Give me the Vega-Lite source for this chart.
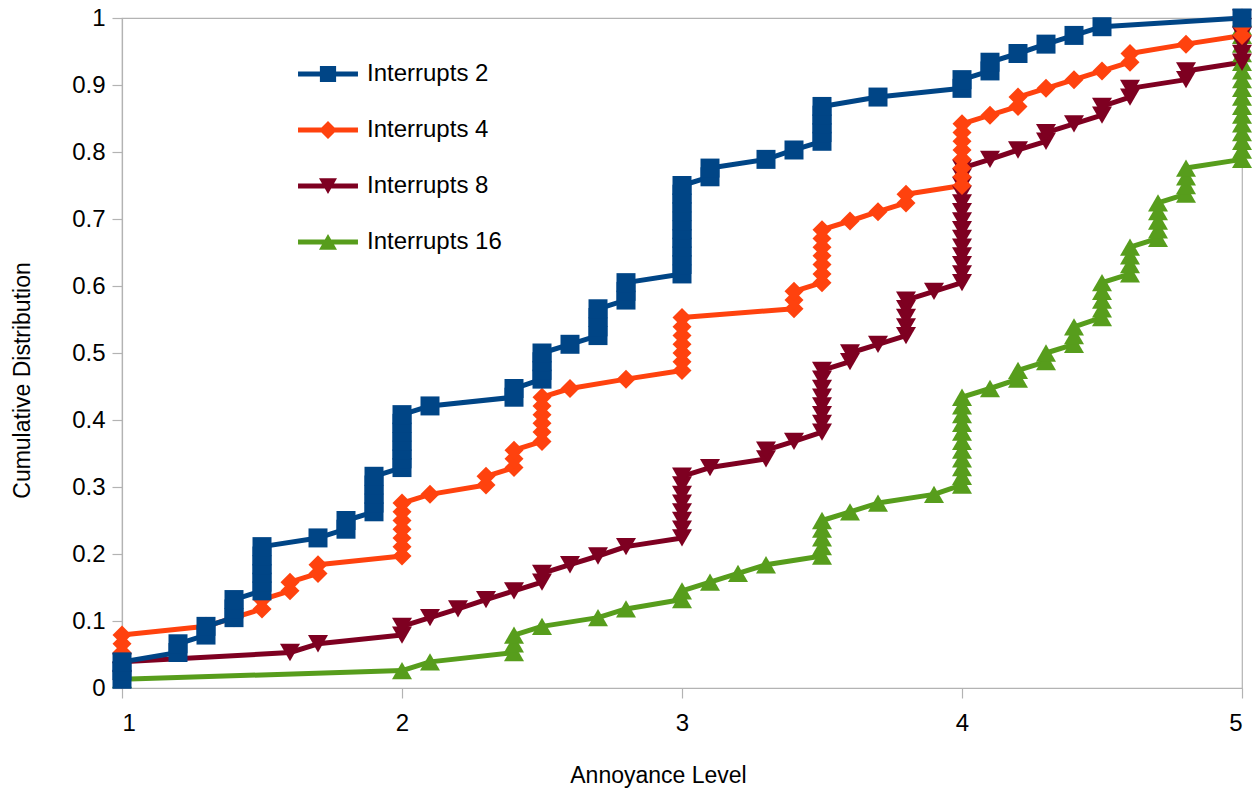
{
"$schema": "https://vega.github.io/schema/vega-lite/v6.json",
"width": 1120, "height": 670,
"autosize": {"type": "none"},
"padding": {"left": 122, "top": 18, "right": 13, "bottom": 100},
"background": "white",
"config": {"view": {"stroke": "#b3b3b3", "strokeWidth": 1.2}, "font": "Liberation Sans"},
"data": {"values": [
{"s":"Interrupts 16","x":1,"y":0.013},{"s":"Interrupts 16","x":2,"y":0.026},{"s":"Interrupts 16","x":2.1,"y":0.039},{"s":"Interrupts 16","x":2.4,"y":0.053},{"s":"Interrupts 16","x":2.4,"y":0.066},{"s":"Interrupts 16","x":2.4,"y":0.079},{"s":"Interrupts 16","x":2.5,"y":0.092},{"s":"Interrupts 16","x":2.7,"y":0.105},{"s":"Interrupts 16","x":2.8,"y":0.118},{"s":"Interrupts 16","x":3,"y":0.132},{"s":"Interrupts 16","x":3,"y":0.145},{"s":"Interrupts 16","x":3.1,"y":0.158},{"s":"Interrupts 16","x":3.2,"y":0.171},{"s":"Interrupts 16","x":3.3,"y":0.184},{"s":"Interrupts 16","x":3.5,"y":0.197},{"s":"Interrupts 16","x":3.5,"y":0.211},{"s":"Interrupts 16","x":3.5,"y":0.224},{"s":"Interrupts 16","x":3.5,"y":0.237},{"s":"Interrupts 16","x":3.5,"y":0.25},{"s":"Interrupts 16","x":3.6,"y":0.263},{"s":"Interrupts 16","x":3.7,"y":0.276},{"s":"Interrupts 16","x":3.9,"y":0.289},{"s":"Interrupts 16","x":4,"y":0.303},{"s":"Interrupts 16","x":4,"y":0.316},{"s":"Interrupts 16","x":4,"y":0.329},{"s":"Interrupts 16","x":4,"y":0.342},{"s":"Interrupts 16","x":4,"y":0.355},{"s":"Interrupts 16","x":4,"y":0.368},{"s":"Interrupts 16","x":4,"y":0.382},{"s":"Interrupts 16","x":4,"y":0.395},{"s":"Interrupts 16","x":4,"y":0.408},{"s":"Interrupts 16","x":4,"y":0.421},{"s":"Interrupts 16","x":4,"y":0.434},{"s":"Interrupts 16","x":4.1,"y":0.447},{"s":"Interrupts 16","x":4.2,"y":0.461},{"s":"Interrupts 16","x":4.2,"y":0.474},{"s":"Interrupts 16","x":4.3,"y":0.487},{"s":"Interrupts 16","x":4.3,"y":0.5},{"s":"Interrupts 16","x":4.4,"y":0.513},{"s":"Interrupts 16","x":4.4,"y":0.526},{"s":"Interrupts 16","x":4.4,"y":0.539},{"s":"Interrupts 16","x":4.5,"y":0.553},{"s":"Interrupts 16","x":4.5,"y":0.566},{"s":"Interrupts 16","x":4.5,"y":0.579},{"s":"Interrupts 16","x":4.5,"y":0.592},{"s":"Interrupts 16","x":4.5,"y":0.605},{"s":"Interrupts 16","x":4.6,"y":0.618},{"s":"Interrupts 16","x":4.6,"y":0.632},{"s":"Interrupts 16","x":4.6,"y":0.645},{"s":"Interrupts 16","x":4.6,"y":0.658},{"s":"Interrupts 16","x":4.7,"y":0.671},{"s":"Interrupts 16","x":4.7,"y":0.684},{"s":"Interrupts 16","x":4.7,"y":0.697},{"s":"Interrupts 16","x":4.7,"y":0.711},{"s":"Interrupts 16","x":4.7,"y":0.724},{"s":"Interrupts 16","x":4.8,"y":0.737},{"s":"Interrupts 16","x":4.8,"y":0.75},{"s":"Interrupts 16","x":4.8,"y":0.763},{"s":"Interrupts 16","x":4.8,"y":0.776},{"s":"Interrupts 16","x":5,"y":0.789},{"s":"Interrupts 16","x":5,"y":0.803},{"s":"Interrupts 16","x":5,"y":0.816},{"s":"Interrupts 16","x":5,"y":0.829},{"s":"Interrupts 16","x":5,"y":0.842},{"s":"Interrupts 16","x":5,"y":0.855},{"s":"Interrupts 16","x":5,"y":0.868},{"s":"Interrupts 16","x":5,"y":0.882},{"s":"Interrupts 16","x":5,"y":0.895},{"s":"Interrupts 16","x":5,"y":0.908},{"s":"Interrupts 16","x":5,"y":0.921},{"s":"Interrupts 16","x":5,"y":0.934},{"s":"Interrupts 16","x":5,"y":0.947},{"s":"Interrupts 16","x":5,"y":0.961},{"s":"Interrupts 16","x":5,"y":0.974},{"s":"Interrupts 16","x":5,"y":0.987},{"s":"Interrupts 16","x":5,"y":1},
{"s":"Interrupts 8","x":1,"y":0.013},{"s":"Interrupts 8","x":1,"y":0.026},{"s":"Interrupts 8","x":1,"y":0.039},{"s":"Interrupts 8","x":1.6,"y":0.053},{"s":"Interrupts 8","x":1.7,"y":0.066},{"s":"Interrupts 8","x":2,"y":0.079},{"s":"Interrupts 8","x":2,"y":0.092},{"s":"Interrupts 8","x":2.1,"y":0.105},{"s":"Interrupts 8","x":2.2,"y":0.118},{"s":"Interrupts 8","x":2.3,"y":0.132},{"s":"Interrupts 8","x":2.4,"y":0.145},{"s":"Interrupts 8","x":2.5,"y":0.158},{"s":"Interrupts 8","x":2.5,"y":0.171},{"s":"Interrupts 8","x":2.6,"y":0.184},{"s":"Interrupts 8","x":2.7,"y":0.197},{"s":"Interrupts 8","x":2.8,"y":0.211},{"s":"Interrupts 8","x":3,"y":0.224},{"s":"Interrupts 8","x":3,"y":0.237},{"s":"Interrupts 8","x":3,"y":0.25},{"s":"Interrupts 8","x":3,"y":0.263},{"s":"Interrupts 8","x":3,"y":0.276},{"s":"Interrupts 8","x":3,"y":0.289},{"s":"Interrupts 8","x":3,"y":0.303},{"s":"Interrupts 8","x":3,"y":0.316},{"s":"Interrupts 8","x":3.1,"y":0.329},{"s":"Interrupts 8","x":3.3,"y":0.342},{"s":"Interrupts 8","x":3.3,"y":0.355},{"s":"Interrupts 8","x":3.4,"y":0.368},{"s":"Interrupts 8","x":3.5,"y":0.382},{"s":"Interrupts 8","x":3.5,"y":0.395},{"s":"Interrupts 8","x":3.5,"y":0.408},{"s":"Interrupts 8","x":3.5,"y":0.421},{"s":"Interrupts 8","x":3.5,"y":0.434},{"s":"Interrupts 8","x":3.5,"y":0.447},{"s":"Interrupts 8","x":3.5,"y":0.461},{"s":"Interrupts 8","x":3.5,"y":0.474},{"s":"Interrupts 8","x":3.6,"y":0.487},{"s":"Interrupts 8","x":3.6,"y":0.5},{"s":"Interrupts 8","x":3.7,"y":0.513},{"s":"Interrupts 8","x":3.8,"y":0.526},{"s":"Interrupts 8","x":3.8,"y":0.539},{"s":"Interrupts 8","x":3.8,"y":0.553},{"s":"Interrupts 8","x":3.8,"y":0.566},{"s":"Interrupts 8","x":3.8,"y":0.579},{"s":"Interrupts 8","x":3.9,"y":0.592},{"s":"Interrupts 8","x":4,"y":0.605},{"s":"Interrupts 8","x":4,"y":0.618},{"s":"Interrupts 8","x":4,"y":0.632},{"s":"Interrupts 8","x":4,"y":0.645},{"s":"Interrupts 8","x":4,"y":0.658},{"s":"Interrupts 8","x":4,"y":0.671},{"s":"Interrupts 8","x":4,"y":0.684},{"s":"Interrupts 8","x":4,"y":0.697},{"s":"Interrupts 8","x":4,"y":0.711},{"s":"Interrupts 8","x":4,"y":0.724},{"s":"Interrupts 8","x":4,"y":0.737},{"s":"Interrupts 8","x":4,"y":0.75},{"s":"Interrupts 8","x":4,"y":0.763},{"s":"Interrupts 8","x":4,"y":0.776},{"s":"Interrupts 8","x":4.1,"y":0.789},{"s":"Interrupts 8","x":4.2,"y":0.803},{"s":"Interrupts 8","x":4.3,"y":0.816},{"s":"Interrupts 8","x":4.3,"y":0.829},{"s":"Interrupts 8","x":4.4,"y":0.842},{"s":"Interrupts 8","x":4.5,"y":0.855},{"s":"Interrupts 8","x":4.5,"y":0.868},{"s":"Interrupts 8","x":4.6,"y":0.882},{"s":"Interrupts 8","x":4.6,"y":0.895},{"s":"Interrupts 8","x":4.8,"y":0.908},{"s":"Interrupts 8","x":4.8,"y":0.921},{"s":"Interrupts 8","x":5,"y":0.934},{"s":"Interrupts 8","x":5,"y":0.947},{"s":"Interrupts 8","x":5,"y":0.961},{"s":"Interrupts 8","x":5,"y":0.974},{"s":"Interrupts 8","x":5,"y":0.987},{"s":"Interrupts 8","x":5,"y":1},
{"s":"Interrupts 4","x":1,"y":0.013},{"s":"Interrupts 4","x":1,"y":0.026},{"s":"Interrupts 4","x":1,"y":0.039},{"s":"Interrupts 4","x":1,"y":0.053},{"s":"Interrupts 4","x":1,"y":0.066},{"s":"Interrupts 4","x":1,"y":0.079},{"s":"Interrupts 4","x":1.3,"y":0.092},{"s":"Interrupts 4","x":1.4,"y":0.105},{"s":"Interrupts 4","x":1.5,"y":0.118},{"s":"Interrupts 4","x":1.5,"y":0.132},{"s":"Interrupts 4","x":1.6,"y":0.145},{"s":"Interrupts 4","x":1.6,"y":0.158},{"s":"Interrupts 4","x":1.7,"y":0.171},{"s":"Interrupts 4","x":1.7,"y":0.184},{"s":"Interrupts 4","x":2,"y":0.197},{"s":"Interrupts 4","x":2,"y":0.211},{"s":"Interrupts 4","x":2,"y":0.224},{"s":"Interrupts 4","x":2,"y":0.237},{"s":"Interrupts 4","x":2,"y":0.25},{"s":"Interrupts 4","x":2,"y":0.263},{"s":"Interrupts 4","x":2,"y":0.276},{"s":"Interrupts 4","x":2.1,"y":0.289},{"s":"Interrupts 4","x":2.3,"y":0.303},{"s":"Interrupts 4","x":2.3,"y":0.316},{"s":"Interrupts 4","x":2.4,"y":0.329},{"s":"Interrupts 4","x":2.4,"y":0.342},{"s":"Interrupts 4","x":2.4,"y":0.355},{"s":"Interrupts 4","x":2.5,"y":0.368},{"s":"Interrupts 4","x":2.5,"y":0.382},{"s":"Interrupts 4","x":2.5,"y":0.395},{"s":"Interrupts 4","x":2.5,"y":0.408},{"s":"Interrupts 4","x":2.5,"y":0.421},{"s":"Interrupts 4","x":2.5,"y":0.434},{"s":"Interrupts 4","x":2.6,"y":0.447},{"s":"Interrupts 4","x":2.8,"y":0.461},{"s":"Interrupts 4","x":3,"y":0.474},{"s":"Interrupts 4","x":3,"y":0.487},{"s":"Interrupts 4","x":3,"y":0.5},{"s":"Interrupts 4","x":3,"y":0.513},{"s":"Interrupts 4","x":3,"y":0.526},{"s":"Interrupts 4","x":3,"y":0.539},{"s":"Interrupts 4","x":3,"y":0.553},{"s":"Interrupts 4","x":3.4,"y":0.566},{"s":"Interrupts 4","x":3.4,"y":0.579},{"s":"Interrupts 4","x":3.4,"y":0.592},{"s":"Interrupts 4","x":3.5,"y":0.605},{"s":"Interrupts 4","x":3.5,"y":0.618},{"s":"Interrupts 4","x":3.5,"y":0.632},{"s":"Interrupts 4","x":3.5,"y":0.645},{"s":"Interrupts 4","x":3.5,"y":0.658},{"s":"Interrupts 4","x":3.5,"y":0.671},{"s":"Interrupts 4","x":3.5,"y":0.684},{"s":"Interrupts 4","x":3.6,"y":0.697},{"s":"Interrupts 4","x":3.7,"y":0.711},{"s":"Interrupts 4","x":3.8,"y":0.724},{"s":"Interrupts 4","x":3.8,"y":0.737},{"s":"Interrupts 4","x":4,"y":0.75},{"s":"Interrupts 4","x":4,"y":0.763},{"s":"Interrupts 4","x":4,"y":0.776},{"s":"Interrupts 4","x":4,"y":0.789},{"s":"Interrupts 4","x":4,"y":0.803},{"s":"Interrupts 4","x":4,"y":0.816},{"s":"Interrupts 4","x":4,"y":0.829},{"s":"Interrupts 4","x":4,"y":0.842},{"s":"Interrupts 4","x":4.1,"y":0.855},{"s":"Interrupts 4","x":4.2,"y":0.868},{"s":"Interrupts 4","x":4.2,"y":0.882},{"s":"Interrupts 4","x":4.3,"y":0.895},{"s":"Interrupts 4","x":4.4,"y":0.908},{"s":"Interrupts 4","x":4.5,"y":0.921},{"s":"Interrupts 4","x":4.6,"y":0.934},{"s":"Interrupts 4","x":4.6,"y":0.947},{"s":"Interrupts 4","x":4.8,"y":0.961},{"s":"Interrupts 4","x":5,"y":0.974},{"s":"Interrupts 4","x":5,"y":0.987},{"s":"Interrupts 4","x":5,"y":1},
{"s":"Interrupts 2","x":1,"y":0.013},{"s":"Interrupts 2","x":1,"y":0.026},{"s":"Interrupts 2","x":1,"y":0.039},{"s":"Interrupts 2","x":1.2,"y":0.053},{"s":"Interrupts 2","x":1.2,"y":0.066},{"s":"Interrupts 2","x":1.3,"y":0.079},{"s":"Interrupts 2","x":1.3,"y":0.092},{"s":"Interrupts 2","x":1.4,"y":0.105},{"s":"Interrupts 2","x":1.4,"y":0.118},{"s":"Interrupts 2","x":1.4,"y":0.132},{"s":"Interrupts 2","x":1.5,"y":0.145},{"s":"Interrupts 2","x":1.5,"y":0.158},{"s":"Interrupts 2","x":1.5,"y":0.171},{"s":"Interrupts 2","x":1.5,"y":0.184},{"s":"Interrupts 2","x":1.5,"y":0.197},{"s":"Interrupts 2","x":1.5,"y":0.211},{"s":"Interrupts 2","x":1.7,"y":0.224},{"s":"Interrupts 2","x":1.8,"y":0.237},{"s":"Interrupts 2","x":1.8,"y":0.25},{"s":"Interrupts 2","x":1.9,"y":0.263},{"s":"Interrupts 2","x":1.9,"y":0.276},{"s":"Interrupts 2","x":1.9,"y":0.289},{"s":"Interrupts 2","x":1.9,"y":0.303},{"s":"Interrupts 2","x":1.9,"y":0.316},{"s":"Interrupts 2","x":2,"y":0.329},{"s":"Interrupts 2","x":2,"y":0.342},{"s":"Interrupts 2","x":2,"y":0.355},{"s":"Interrupts 2","x":2,"y":0.368},{"s":"Interrupts 2","x":2,"y":0.382},{"s":"Interrupts 2","x":2,"y":0.395},{"s":"Interrupts 2","x":2,"y":0.408},{"s":"Interrupts 2","x":2.1,"y":0.421},{"s":"Interrupts 2","x":2.4,"y":0.434},{"s":"Interrupts 2","x":2.4,"y":0.447},{"s":"Interrupts 2","x":2.5,"y":0.461},{"s":"Interrupts 2","x":2.5,"y":0.474},{"s":"Interrupts 2","x":2.5,"y":0.487},{"s":"Interrupts 2","x":2.5,"y":0.5},{"s":"Interrupts 2","x":2.6,"y":0.513},{"s":"Interrupts 2","x":2.7,"y":0.526},{"s":"Interrupts 2","x":2.7,"y":0.539},{"s":"Interrupts 2","x":2.7,"y":0.553},{"s":"Interrupts 2","x":2.7,"y":0.566},{"s":"Interrupts 2","x":2.8,"y":0.579},{"s":"Interrupts 2","x":2.8,"y":0.592},{"s":"Interrupts 2","x":2.8,"y":0.605},{"s":"Interrupts 2","x":3,"y":0.618},{"s":"Interrupts 2","x":3,"y":0.632},{"s":"Interrupts 2","x":3,"y":0.645},{"s":"Interrupts 2","x":3,"y":0.658},{"s":"Interrupts 2","x":3,"y":0.671},{"s":"Interrupts 2","x":3,"y":0.684},{"s":"Interrupts 2","x":3,"y":0.697},{"s":"Interrupts 2","x":3,"y":0.711},{"s":"Interrupts 2","x":3,"y":0.724},{"s":"Interrupts 2","x":3,"y":0.737},{"s":"Interrupts 2","x":3,"y":0.75},{"s":"Interrupts 2","x":3.1,"y":0.763},{"s":"Interrupts 2","x":3.1,"y":0.776},{"s":"Interrupts 2","x":3.3,"y":0.789},{"s":"Interrupts 2","x":3.4,"y":0.803},{"s":"Interrupts 2","x":3.5,"y":0.816},{"s":"Interrupts 2","x":3.5,"y":0.829},{"s":"Interrupts 2","x":3.5,"y":0.842},{"s":"Interrupts 2","x":3.5,"y":0.855},{"s":"Interrupts 2","x":3.5,"y":0.868},{"s":"Interrupts 2","x":3.7,"y":0.882},{"s":"Interrupts 2","x":4,"y":0.895},{"s":"Interrupts 2","x":4,"y":0.908},{"s":"Interrupts 2","x":4.1,"y":0.921},{"s":"Interrupts 2","x":4.1,"y":0.934},{"s":"Interrupts 2","x":4.2,"y":0.947},{"s":"Interrupts 2","x":4.3,"y":0.961},{"s":"Interrupts 2","x":4.4,"y":0.974},{"s":"Interrupts 2","x":4.5,"y":0.987},{"s":"Interrupts 2","x":5,"y":1}
]},
"encoding": {
  "x": {"field": "x", "type": "quantitative",
        "scale": {"domain": [1, 5], "nice": false, "zero": false},
        "axis": {"values": [1, 2, 3, 4, 5], "format": "~g", "title": "Annoyance Level", "grid": false,
                 "domainColor": "#b3b3b3", "domainWidth": 1.2, "tickColor": "#b3b3b3", "tickWidth": 1.2, "tickSize": 10,
                 "labelFont": "Liberation Sans", "labelFontSize": 24, "labelColor": "#000000", "labelPadding": 13,
                 "titleFont": "Liberation Sans", "titleFontSize": 23, "titleFontWeight": "normal", "titleColor": "#000000",
                 "titleX": 536, "titleY": 87, "titleBaseline": "middle", "titleAlign": "center"}},
  "y": {"field": "y", "type": "quantitative",
        "scale": {"domain": [0, 1], "nice": false},
        "axis": {"values": [0, 0.1, 0.2, 0.3, 0.4, 0.5, 0.6, 0.7, 0.8, 0.9, 1], "format": "~g", "title": "Cumulative Distribution", "grid": false,
                 "domainColor": "#b3b3b3", "domainWidth": 1.2, "tickColor": "#b3b3b3", "tickWidth": 1.2, "tickSize": 10,
                 "labelFont": "Liberation Sans", "labelFontSize": 24, "labelColor": "#000000", "labelPadding": 7,
                 "titleFont": "Liberation Sans", "titleFontSize": 23, "titleFontWeight": "normal", "titleColor": "#000000",
                 "titleX": -100, "titleY": 362, "titleAngle": 270, "titleBaseline": "middle", "titleAlign": "center"}},
  "color": {"field": "s", "type": "nominal", "title": null,
            "scale": {"domain": ["Interrupts 2", "Interrupts 4", "Interrupts 8", "Interrupts 16"],
                      "range": ["#004586", "#ff420e", "#7e0021", "#579d1c"]},
            "legend": {"orient": "none", "legendX": 194, "legendY": 44, "direction": "vertical", "padding": 0,
                       "symbolSize": 324, "symbolStrokeWidth": 0, "labelOffset": 27, "rowPadding": 32,
                       "labelFont": "Liberation Sans", "labelFontSize": 24, "labelColor": "#000000", "labelLimit": 400,
                       "encode": {"symbols": {"update": {
                          "shape": {"signal": "datum.value == 'Interrupts 2' ? 'M-3.33,-0.28L3.33,-0.28L3.33,0.28L-3.33,0.28Z M-0.9,-0.9L0.9,-0.9L0.9,0.9L-0.9,0.9Z' : datum.value == 'Interrupts 4' ? 'M-3.33,-0.28L3.33,-0.28L3.33,0.28L-3.33,0.28Z M0,-1L1,0L0,1L-1,0Z' : datum.value == 'Interrupts 8' ? 'M-3.33,-0.28L3.33,-0.28L3.33,0.28L-3.33,0.28Z M-1,-0.85L1,-0.85L0,0.9Z' : 'M-3.33,-0.28L3.33,-0.28L3.33,0.28L-3.33,0.28Z M0,-0.9L1,0.85L-1,0.85Z'"},
                          "fill": {"scale": "color", "field": "value"},
                          "stroke": {"value": "transparent"},
                          "strokeWidth": {"value": 0},
                          "opacity": {"value": 1},
                          "size": {"value": 324}}}}}}
},
"layer": [
  {"mark": {"type": "line", "strokeWidth": 5, "strokeJoin": "round"},
   "encoding": {"order": {"field": "y", "type": "quantitative"}}},
  {"transform": [{"filter": "datum.s == 'Interrupts 16'"}],
   "mark": {"type": "point", "filled": true, "shape": "triangle-up", "size": 400, "opacity": 1, "strokeWidth": 0}},
  {"transform": [{"filter": "datum.s == 'Interrupts 8'"}],
   "mark": {"type": "point", "filled": true, "shape": "triangle-down", "size": 400, "opacity": 1, "strokeWidth": 0}},
  {"transform": [{"filter": "datum.s == 'Interrupts 4'"}],
   "mark": {"type": "point", "filled": true, "shape": "diamond", "size": 361, "opacity": 1, "strokeWidth": 0}},
  {"transform": [{"filter": "datum.s == 'Interrupts 2'"}],
   "mark": {"type": "point", "filled": true, "shape": "square", "size": 361, "opacity": 1, "strokeWidth": 0}}
]
}
